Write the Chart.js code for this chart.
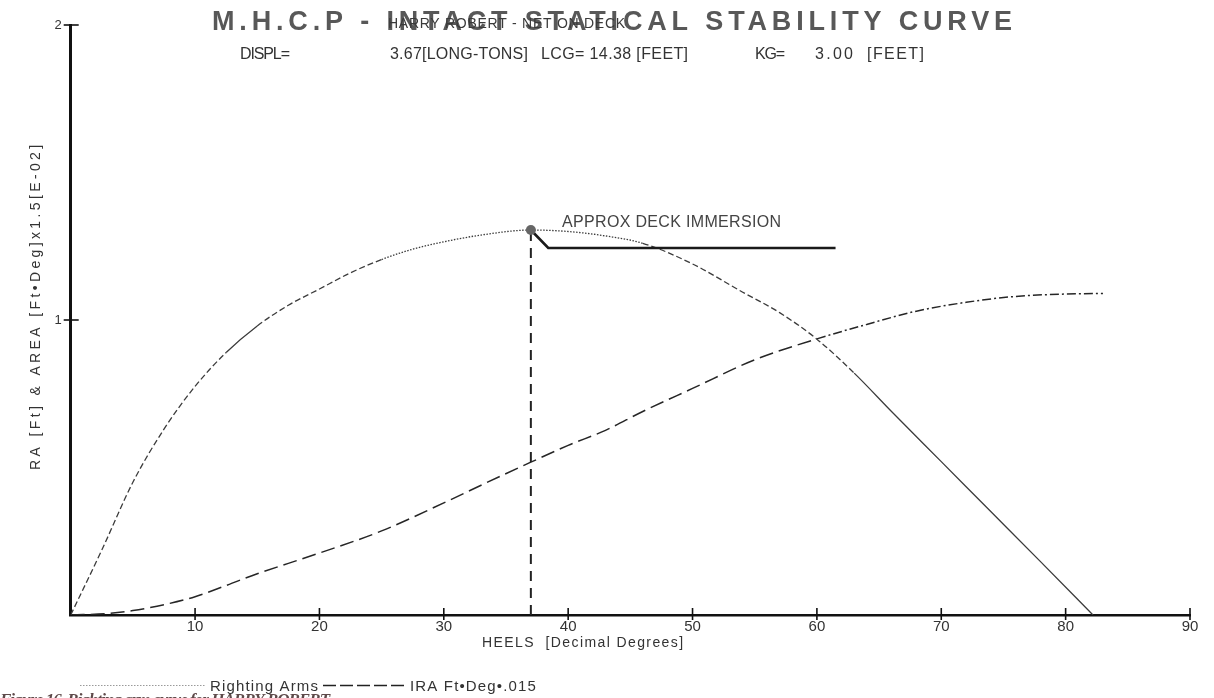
<!DOCTYPE html>
<html>
<head>
<meta charset="utf-8">
<script src="https://cdn.jsdelivr.net/npm/chart.js@4.4.1/dist/chart.umd.min.js"></script>
<style>
  html, body { margin: 0; padding: 0; background: #fff; }
  #wrap { width: 1214px; height: 698px; position: relative; }
</style>
</head>
<body>
<div id="wrap"><canvas id="stabilityCurve"></canvas></div>
<script>
// righting arm curve, heel in degrees, RA in feet
const raHeel = [0, 2.5, 5, 7.5, 10, 12.5, 15, 17.5, 20, 22.5, 25, 27.5, 30, 33, 37, 40, 43, 46, 50, 54, 57, 60, 63, 66, 70, 74, 78, 82.2];
const raArm  = [0, 0.22, 0.45, 0.63, 0.775, 0.89, 0.98, 1.05, 1.105, 1.16, 1.205, 1.24, 1.265, 1.288, 1.305, 1.30, 1.285, 1.26, 1.19, 1.095, 1.025, 0.935, 0.82, 0.69, 0.52, 0.35, 0.18, 0];

// integrated righting arm area (ft*deg * .015)
const iraHeel = [0, 3, 5, 7.5, 10, 12.5, 15, 17.5, 20, 25, 30, 33, 37, 40, 43, 46, 50, 55, 60, 64, 68, 72, 76, 80, 83];
const iraArea = [0, 0.005, 0.015, 0.035, 0.062, 0.10, 0.14, 0.175, 0.21, 0.285, 0.38, 0.44, 0.518, 0.575, 0.626, 0.69, 0.768, 0.865, 0.936, 0.985, 1.03, 1.06, 1.08, 1.088, 1.09];

// approx deck immersion point and its leader
const deckHeel = 37;
const deckArm = 1.305;
const leaderHeel = [37, 38.4, 61.5];
const leaderArm = [1.305, 1.244, 1.244];

const xTickValues = [10, 20, 30, 40, 50, 60, 70, 80, 90];
const yTickValues = [1, 2];

const pts = (xs, ys) => xs.map((x, i) => ({ x: x, y: ys[i] }));

// fit a string into a given width by letter spacing
function fitText(ctx, text, x, y, w) {
  ctx.letterSpacing = '0px';
  const m = ctx.measureText(text).width;
  const sp = text.length > 1 ? (w - m) / (text.length - 1) : 0;
  ctx.letterSpacing = sp.toFixed(2) + 'px';
  ctx.fillText(text, x, y);
  ctx.letterSpacing = '0px';
}

const crossTicks = {
  id: 'crossTicks',
  afterDraw(chart) {
    const ctx = chart.ctx;
    const xs = chart.scales.x, ys = chart.scales.y;
    const y0 = ys.getPixelForValue(0), x0 = xs.getPixelForValue(0);
    ctx.save();
    ctx.strokeStyle = '#111';
    ctx.lineWidth = 1.6;
    xTickValues.forEach(v => {
      const px = xs.getPixelForValue(v);
      ctx.beginPath(); ctx.moveTo(px, y0 - 7); ctx.lineTo(px, y0 + 5); ctx.stroke();
    });
    yTickValues.forEach(v => {
      const py = ys.getPixelForValue(v);
      ctx.beginPath(); ctx.moveTo(x0 - 7, py); ctx.lineTo(x0 + 8, py); ctx.stroke();
    });
    ctx.restore();
  }
};

const labels = {
  id: 'labels',
  afterDraw(chart) {
    const ctx = chart.ctx;
    ctx.save();
    ctx.textBaseline = 'alphabetic';
    ctx.textAlign = 'left';

    // heading
    ctx.fillStyle = '#585858';
    ctx.font = 'bold 27px "Liberation Sans", Arial, sans-serif';
    fitText(ctx, 'M.H.C.P - INTACT STATICAL STABILITY CURVE', 212, 30, 800);
    ctx.fillStyle = '#3a3a3a';
    ctx.font = '14px "Liberation Sans", Arial, sans-serif';
    fitText(ctx, 'HARRY ROBERT - NET ON DECK', 388, 28, 237);

    ctx.fillStyle = '#333';
    ctx.font = '16px "Liberation Sans", Arial, sans-serif';
    fitText(ctx, 'DISPL=', 240, 59, 50);
    fitText(ctx, '3.67[LONG-TONS]', 390, 59, 138);
    fitText(ctx, 'LCG= 14.38 [FEET]', 541, 59, 147);
    fitText(ctx, 'KG=', 755, 59, 30);
    fitText(ctx, '3.00', 815, 59, 38);
    fitText(ctx, '[FEET]', 867, 59, 57);

    // deck immersion note
    ctx.fillStyle = '#444';
    fitText(ctx, 'APPROX DECK IMMERSION', 562, 227, 219);

    // axis titles
    ctx.fillStyle = '#333';
    ctx.font = '14px "Liberation Sans", Arial, sans-serif';
    fitText(ctx, 'HEELS  [Decimal Degrees]', 482, 647, 201);
    ctx.save();
    ctx.translate(40, 470);
    ctx.rotate(-Math.PI / 2);
    ctx.font = '14px "Liberation Sans", Arial, sans-serif';
    fitText(ctx, 'RA [Ft] & AREA [Ft•Deg]x1.5[E-02]', 0, 0, 325);
    ctx.restore();

    // key
    ctx.strokeStyle = '#9a9a9a';
    ctx.lineWidth = 1;
    ctx.setLineDash([1.5, 1.5]);
    ctx.beginPath(); ctx.moveTo(80, 685.5); ctx.lineTo(205, 685.5); ctx.stroke();
    ctx.strokeStyle = '#222';
    ctx.lineWidth = 1.6;
    ctx.setLineDash([13, 4]);
    ctx.beginPath(); ctx.moveTo(323, 685.5); ctx.lineTo(405, 685.5); ctx.stroke();
    ctx.setLineDash([]);
    ctx.fillStyle = '#333';
    ctx.font = '15px "Liberation Sans", Arial, sans-serif';
    fitText(ctx, 'Righting Arms', 210, 691, 108);
    fitText(ctx, 'IRA Ft•Deg•.015', 410, 691, 126);

    // figure caption
    ctx.fillStyle = '#5e4a4a';
    ctx.font = 'italic bold 17px "Liberation Serif", "DejaVu Serif", serif';
    fitText(ctx, 'Figure 16. Righting arm curve for HARRY ROBERT', 0, 705, 330);
    ctx.restore();
  }
};

const raDash = c => {
  const x = c.p0.parsed.x;
  if (x >= 24 && x < 46) return [1.5, 1.5];
  if (x >= 12 && x < 15) return [];
  if (x >= 62) return [];
  return [6, 3];
};
const iraDash = c => (c.p0.parsed.x >= 57 ? [9, 3, 2, 3] : [14, 6]);

new Chart(document.getElementById('stabilityCurve'), {
  type: 'scatter',
  data: {
    datasets: [
      {
        label: 'deck point',
        data: [{ x: deckHeel, y: deckArm }],
        pointRadius: 5,
        pointBackgroundColor: '#666',
        pointBorderWidth: 0,
        showLine: false,
        order: 0
      },
      {
        label: 'leader',
        data: pts(leaderHeel, leaderArm),
        showLine: true,
        borderColor: '#1a1a1a',
        borderWidth: 2.6,
        pointRadius: 0,
        tension: 0,
        order: 1
      },
      {
        label: 'deck heel',
        data: [{ x: deckHeel, y: 0 }, { x: deckHeel, y: deckArm }],
        showLine: true,
        borderColor: '#222',
        borderWidth: 2,
        borderDash: [10, 7],
        pointRadius: 0,
        order: 2
      },
      {
        label: 'Righting Arms',
        data: pts(raHeel, raArm),
        showLine: true,
        borderColor: '#3c3c3c',
        borderWidth: 1.3,
        pointRadius: 0,
        cubicInterpolationMode: 'monotone',
        segment: { borderDash: raDash },
        order: 3
      },
      {
        label: 'IRA Ft•Deg•.015',
        data: pts(iraHeel, iraArea),
        showLine: true,
        borderColor: '#262626',
        borderWidth: 1.5,
        pointRadius: 0,
        cubicInterpolationMode: 'monotone',
        segment: { borderDash: iraDash },
        order: 4
      }
    ]
  },
  options: {
    responsive: true,
    maintainAspectRatio: false,
    animation: false,
    layout: { padding: { top: 25, right: 24, left: 0, bottom: 0 } },
    plugins: {
      legend: { display: false },
      tooltip: { enabled: false }
    },
    scales: {
      x: {
        type: 'linear',
        min: 0,
        max: 90,
        afterFit: s => { s.height = 83; },
        ticks: {
          stepSize: 10,
          padding: 3,
          color: '#333',
          font: { family: '"Liberation Sans", Arial, sans-serif', size: 15 },
          callback: v => (v === 0 ? '' : v)
        },
        grid: { display: true, drawOnChartArea: false, drawTicks: false },
        border: { display: true, color: '#111', width: 2.5 }
      },
      y: {
        type: 'linear',
        min: 0,
        max: 2,
        afterFit: s => { s.width = 70.7; },
        ticks: {
          stepSize: 1,
          padding: 9,
          color: '#333',
          font: { family: '"Liberation Sans", Arial, sans-serif', size: 13 },
          callback: v => (v === 0 ? '' : v)
        },
        grid: { display: true, drawOnChartArea: false, drawTicks: false },
        border: { display: true, color: '#111', width: 3 }
      }
    }
  },
  plugins: [crossTicks, labels]
});
</script>
</body>
</html>
